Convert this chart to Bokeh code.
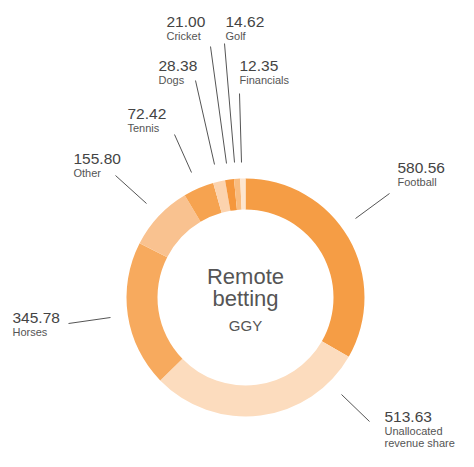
import math
from bokeh.plotting import figure
from bokeh.models import Range1d, ColumnDataSource
from bokeh.core.properties import value
from bokeh.embed import file_html
from bokeh.resources import INLINE

# ---- data ----
categories = ["Football", "Unallocated\nrevenue share", "Horses", "Other", "Tennis",
              "Dogs", "Cricket", "Golf", "Financials"]
ggy = [580.56, 513.63, 345.78, 155.80, 72.42, 28.38, 21.00, 14.62, 12.35]
colors = ["#F59D45", "#FCDCBE", "#F7AA5E", "#F9C290", "#F6A350",
          "#FCD3AE", "#F5973D", "#F9BC80", "#FDE6D0"]

# ---- layout (screen pixels in the picture) ----
W, H = 458, 451
CX, CY = 245, 297
R_OUT, R_IN = 119, 88
# leader line start, end, label anchor (x, value baseline), name line spacing
label_layout = [
    ((355, 218), (389, 193), (397, 173), 13),
    ((341, 394), (369, 421), (384, 422), 12),
    ((110, 317), (68, 323), (12, 323), 13),
    ((146, 203), (115, 175), (73, 164), 13),
    ((191, 172), (174, 134), (127, 119), 13),
    ((214, 164), (195, 80), (158, 71), 13),
    ((226, 163), (210, 46), (166, 27), 13),
    ((234, 162), (224, 43), (225, 27), 13),
    ((241, 162), (239, 93), (239, 71), 13),
]
VAL_SHIFT, NAME_SHIFT, BIG_SHIFT, SUB_SHIFT = 6, 5, 7, 5


def sy(y):
    return H - y


p = figure(width=W, height=H, output_backend="svg", toolbar_location=None,
           x_range=Range1d(0, W), y_range=Range1d(0, H),
           x_axis_type=None, y_axis_type=None, min_border=0)
p.grid.visible = False
p.outline_line_color = None
p.background_fill_color = "white"
p.border_fill_color = "white"

total = sum(ggy)
starts, ends = [], []
cum = 0.0
for v in ggy:
    starts.append(math.pi / 2 - 2 * math.pi * cum / total)
    cum += v
    ends.append(math.pi / 2 - 2 * math.pi * cum / total)

src = ColumnDataSource(dict(x=[CX] * len(ggy), y=[sy(CY)] * len(ggy),
                            start=starts, end=ends, color=colors))
p.annular_wedge(x="x", y="y", inner_radius=R_IN, outer_radius=R_OUT,
                start_angle="start", end_angle="end", direction="clock",
                fill_color="color", line_color=None, source=src)

font = value("Liberation Sans")
for cat, v, (a, b, lab, lh) in zip(categories, ggy, label_layout):
    p.line([a[0], b[0]], [sy(a[1]), sy(b[1])], line_color="#555555", line_width=1)
    p.text([lab[0]], [sy(lab[1] - VAL_SHIFT)], text=[f"{v:.2f}"], text_font=font,
           text_font_size="15.5px", text_color="#444444",
           text_baseline="alphabetic", text_align="left")
    for i, line in enumerate(cat.split("\n")):
        p.text([lab[0]], [sy(lab[1] + 13 + lh * i - NAME_SHIFT)], text=[line],
               text_font=font, text_font_size="11px", text_color="#555555",
               text_baseline="alphabetic", text_align="left")

p.text([CX], [sy(283 - BIG_SHIFT)], text=["Remote"], text_font=font,
       text_font_size="22px", text_color="#555555", text_align="center",
       text_baseline="alphabetic")
p.text([CX], [sy(305 - BIG_SHIFT)], text=["betting"], text_font=font,
       text_font_size="22px", text_color="#555555", text_align="center",
       text_baseline="alphabetic")
p.text([CX], [sy(330 - SUB_SHIFT)], text=["GGY"], text_font=font,
       text_font_size="15px", text_color="#555555", text_align="center",
       text_baseline="alphabetic")

open("out.html", "w").write(file_html(p, INLINE))
